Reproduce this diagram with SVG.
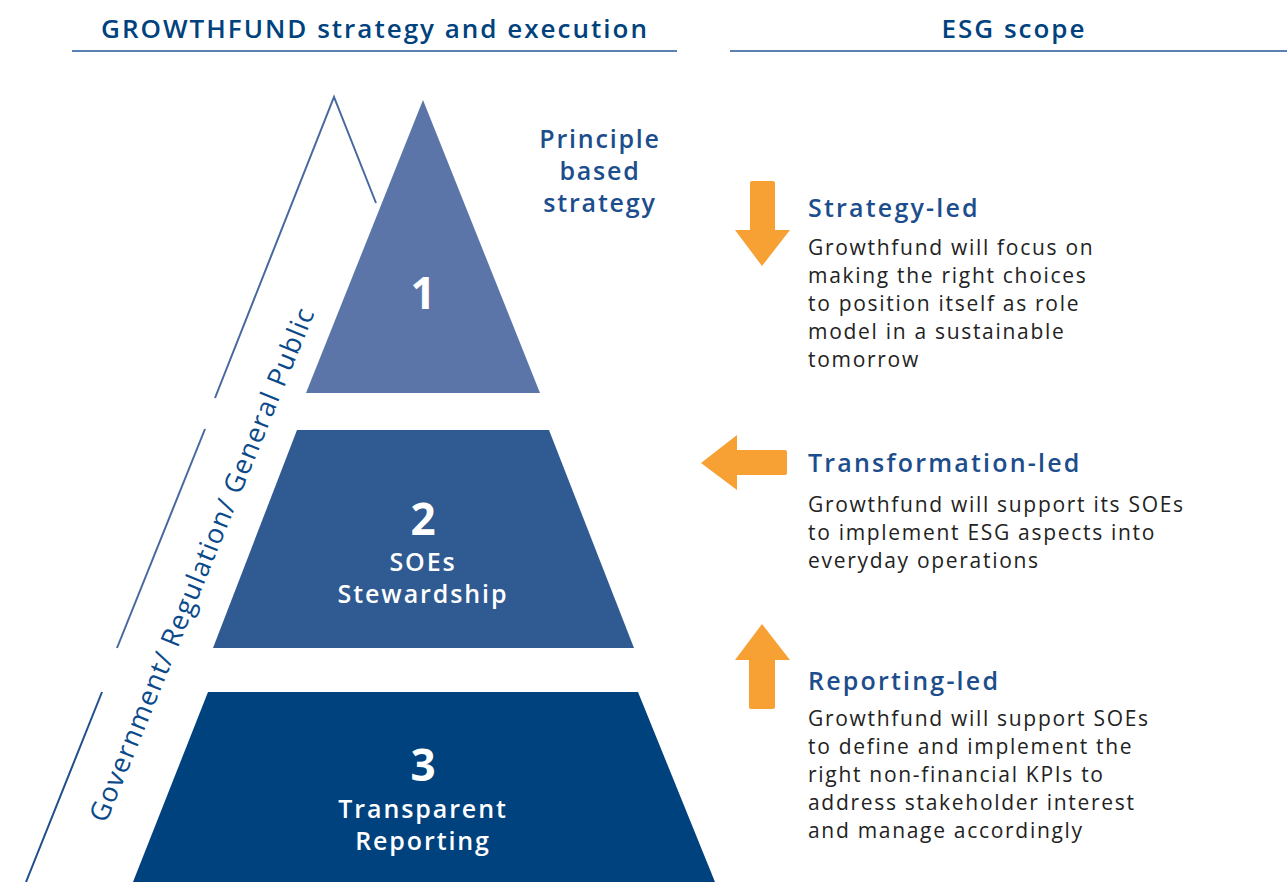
<svg xmlns="http://www.w3.org/2000/svg" width="1287" height="882" viewBox="0 0 1287 882">
<style>
  .hdr { font-family: "Open Sans", "Liberation Sans", sans-serif; font-size: 26px; font-weight: 600; fill: #00427e; text-anchor: middle; letter-spacing: 2px; }
  .rule { stroke: #5a80b4; stroke-width: 2; }
  .outline { stroke: #4a68a0; stroke-width: 2; fill: none; }
  .outline2 { stroke: #1f4f8c; stroke-width: 2; fill: none; }
  .lbl { font-family: "Open Sans", "Liberation Sans", sans-serif; font-weight: 600; fill: #ffffff; text-anchor: middle; font-size: 25px; letter-spacing: 1.9px; }
  .num { font-weight: 700; font-size: 44px; letter-spacing: 0; }
  .blue { font-family: "Open Sans", "Liberation Sans", sans-serif; font-weight: 600; fill: #1c4d8c; font-size: 25px; letter-spacing: 2.2px; }
  .prin { letter-spacing: 1.8px; }
  .body { font-family: "Open Sans", "Liberation Sans", sans-serif; font-size: 21px; fill: #222222; letter-spacing: 1.7px; }
  .arrow { fill: #f7a034; }
  .side { font-family: "Open Sans", "Liberation Sans", sans-serif; font-size: 27px; font-weight: 500; fill: #0b4a8a; }
</style>
<rect width="1287" height="882" fill="#ffffff"/>

<g id="headers">
  <text class="hdr" x="375" y="38">GROWTHFUND strategy and execution</text>
  <line class="rule" x1="72" y1="51" x2="677" y2="51"/>
  <text class="hdr" x="1014" y="38">ESG scope</text>
  <line class="rule" x1="730" y1="51" x2="1287" y2="51"/>
</g>

<g id="outer-frame">
  <polyline class="outline" points="376,203 334,97 215,398"/>
  <line class="outline" x1="205" y1="429" x2="117" y2="648"/>
  <line class="outline2" x1="102" y1="692" x2="26" y2="882"/>
  <text class="side" transform="translate(106,824) rotate(-67.8)" textLength="552" lengthAdjust="spacing">Government/ Regulation/ General Public</text>
</g>

<g id="tier1">
  <polygon points="423,100 540,393 306,393" fill="#5b75a8"/>
  <text class="lbl num" x="423" y="309">1</text>
</g>
<g id="principle">
  <text class="blue prin" x="600" y="148" text-anchor="middle">Principle</text>
  <text class="blue prin" x="600" y="180" text-anchor="middle">based</text>
  <text class="blue prin" x="600" y="212" text-anchor="middle">strategy</text>
</g>

<g id="tier2">
  <polygon points="297,430 549,430 634,648 213,648" fill="#2f5a92"/>
  <text class="lbl"><tspan class="num" x="423" y="535">2</tspan><tspan x="423" y="571">SOEs</tspan><tspan x="423" y="603">Stewardship</tspan></text>
</g>

<g id="tier3">
  <polygon points="208,692 638,692 715,882 133,882" fill="#00427e"/>
  <text class="lbl"><tspan class="num" x="423" y="781">3</tspan><tspan x="423" y="818">Transparent</tspan><tspan x="423" y="850">Reporting</tspan></text>
</g>

<g id="connectors">
  <path class="arrow" d="M750,183 Q750,181 752,181 L773,181 Q775,181 775,183 L775,230 L790,230 L762,266 L735,230 L750,230 Z"/>
  <path class="arrow" d="M787,452 Q787,450 785,450 L737,450 L737,435 L701,463 L737,490 L737,475 L785,475 Q787,475 787,473 Z"/>
  <path class="arrow" d="M749,707 Q749,709 751,709 L773,709 Q775,709 775,707 L775,660 L790,660 L762,624 L735,660 L749,660 Z"/>
</g>

<g id="strategy-led">
  <text class="blue" x="808" y="217">Strategy-led</text>
  <text class="body" x="808" y="255">Growthfund will focus on</text>
  <text class="body" x="808" y="283">making the right choices</text>
  <text class="body" x="808" y="311">to position itself as role</text>
  <text class="body" x="808" y="339">model in a sustainable</text>
  <text class="body" x="808" y="367">tomorrow</text>
</g>

<g id="transformation-led">
  <text class="blue" x="808" y="472">Transformation-led</text>
  <text class="body" x="808" y="512">Growthfund will support its SOEs</text>
  <text class="body" x="808" y="540">to implement ESG aspects into</text>
  <text class="body" x="808" y="568">everyday operations</text>
</g>

<g id="reporting-led">
  <text class="blue" x="808" y="690">Reporting-led</text>
  <text class="body" x="808" y="726">Growthfund will support SOEs</text>
  <text class="body" x="808" y="754">to define and implement the</text>
  <text class="body" x="808" y="782">right non-financial KPIs to</text>
  <text class="body" x="808" y="810">address stakeholder interest</text>
  <text class="body" x="808" y="838">and manage accordingly</text>
</g>
</svg>
